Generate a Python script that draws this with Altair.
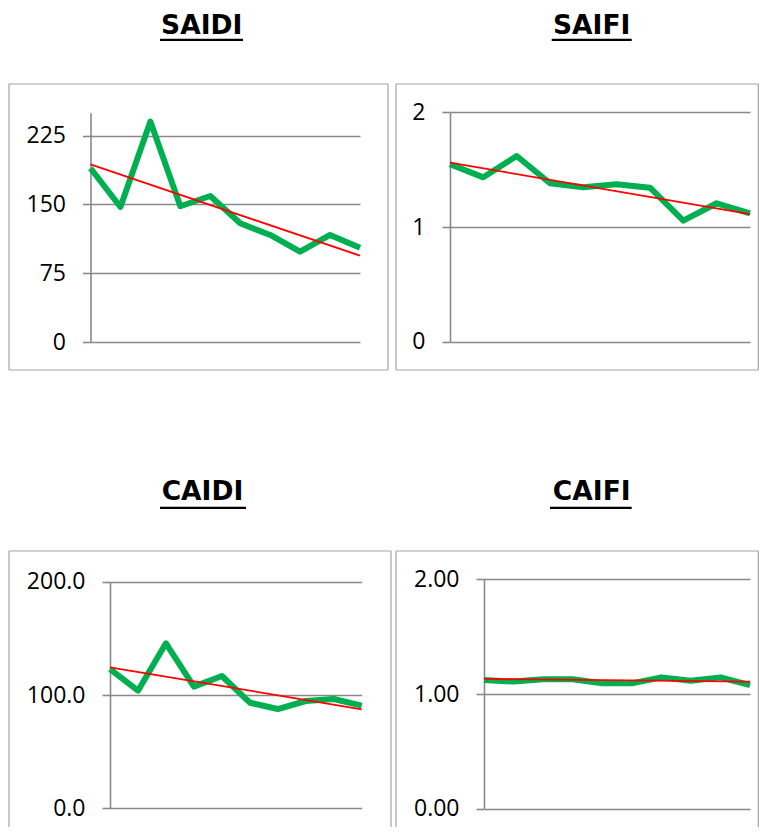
import altair as alt
import pandas as pd

# ---- data ----
points = list(range(10))

saidi = [189.4, 147.2, 240.4, 148.0, 159.2, 129.4, 116.7, 98.5, 116.7, 102.8]
saidi_trend = [193.7, 94.1]

saifi = [1.547, 1.433, 1.619, 1.381, 1.346, 1.372, 1.343, 1.055, 1.207, 1.119]
saifi_trend = [1.561, 1.113]

caidi = [122.9, 103.8, 145.6, 107.4, 116.8, 93.2, 87.6, 94.7, 96.5, 90.6]
caidi_trend = [124.4, 87.4]

caifi = [1.122, 1.108, 1.128, 1.128, 1.093, 1.093, 1.145, 1.116, 1.145, 1.078]
caifi_trend = [1.131, 1.108]

titles = ["SAIDI", "SAIFI", "CAIDI", "CAIFI"]
y_max = [250, 2, 200, 2]
y_ticks = [[0, 75, 150, 225], [0, 1, 2], [0, 100, 200], [0, 1, 2]]
y_formats = [".0f", ".0f", ".1f", ".2f"]

# ---- layout: every panel is a cell; coordinates are relative to the cell ----
layouts = [
    dict(W=384, H=412, xr=(82.5, 352), yr=(334, 104.7),
         box=(1, 380, 76, 362), tx=193.7, ty=25.6, ul=(152, 235, 31.8)),
    dict(W=367, H=412, xr=(58, 358), yr=(333.7, 104.3),
         box=(4, 366.3, 76, 362), tx=199.7, ty=25.6, ul=(159.7, 239.7, 31.8)),
    dict(W=384, H=407, xr=(102, 353.7), yr=(388.3, 161.7),
         box=(1, 383, 131, None), tx=194.5, ty=80.3, ul=(152, 238, 87.8)),
    dict(W=367, H=407, xr=(92, 358), yr=(388.7, 159.3),
         box=(4, 366.3, 131, None), tx=199.7, ty=80.3, ul=(158, 239.7, 87.8)),
]

GRID = "#898989"
BOX = "#a3a3a3"
one = alt.Data(values=[{"a": 1}])


def panel(title, values, trend, ymax, ticks, fmt, g):
    line_df = pd.DataFrame({"i": points, "v": values})
    trend_df = pd.DataFrame({"i": [points[0], points[-1]], "v": trend})

    xenc = alt.X(
        "i:Q",
        scale=alt.Scale(domain=[0, 9], range=list(g["xr"]), nice=False, zero=False),
        axis=None,
    )
    yenc = alt.Y(
        "v:Q",
        scale=alt.Scale(domain=[0, ymax], range=list(g["yr"]), nice=False, zero=True),
        axis=alt.Axis(
            values=ticks, format=fmt, title=None, offset=-g["xr"][0],
            grid=True, gridColor=GRID, gridWidth=1.6,
            domain=True, domainColor=GRID, domainWidth=1.6,
            ticks=True, tickColor=GRID, tickWidth=1.6, tickSize=8,
            labelFont="Open Sans", labelFontSize=23, labelColor="#000000",
            labelPadding=17, labelFlush=False, labelOverlap=False,
        ),
    )

    bx0, bx1, by0, by1 = g["box"]
    bottom = by1 if by1 is not None else g["H"]
    box_layers = [
        alt.Chart(one).mark_rule(color=BOX, strokeWidth=1.2).encode(
            x=alt.value(bx0), x2=alt.value(bx1), y=alt.value(by0)),
        alt.Chart(one).mark_rule(color=BOX, strokeWidth=1.2).encode(
            x=alt.value(bx0), y=alt.value(by0), y2=alt.value(bottom)),
        alt.Chart(one).mark_rule(color=BOX, strokeWidth=1.2).encode(
            x=alt.value(bx1), y=alt.value(by0), y2=alt.value(bottom)),
    ]
    if by1 is not None:
        box_layers.append(
            alt.Chart(one).mark_rule(color=BOX, strokeWidth=1.2).encode(
                x=alt.value(bx0), x2=alt.value(bx1), y=alt.value(by1)))

    title_text = alt.Chart(one).mark_text(
        text=title, font="DejaVu Sans", fontSize=26.5, fontWeight="bold",
        align="center", baseline="alphabetic", color="#000000",
    ).encode(x=alt.value(g["tx"]), y=alt.value(g["ty"]))

    u0, u1, uy = g["ul"]
    underline = alt.Chart(one).mark_rule(color="#000000", strokeWidth=2.2).encode(
        x=alt.value(u0), x2=alt.value(u1), y=alt.value(uy))

    green = alt.Chart(line_df).mark_line(
        color="#00b050", strokeWidth=6, strokeJoin="round"
    ).encode(x=xenc, y=yenc)
    red = alt.Chart(trend_df).mark_line(color="#ff0000", strokeWidth=1.8).encode(x=xenc, y=yenc)

    return alt.layer(*box_layers, title_text, underline, green, red).properties(
        width=g["W"], height=g["H"]
    )


series = [(saidi, saidi_trend), (saifi, saifi_trend), (caidi, caidi_trend), (caifi, caifi_trend)]
panels = [
    panel(titles[k], series[k][0], series[k][1], y_max[k], y_ticks[k], y_formats[k], layouts[k])
    for k in range(4)
]

chart = alt.vconcat(
    alt.hconcat(panels[0], panels[1], spacing=0),
    alt.hconcat(panels[2], panels[3], spacing=0),
    spacing=0,
).properties(padding=0, background="white").configure_view(stroke=None).configure_concat(spacing=0)

chart.save("out.html", embed_options={"renderer": "svg", "actions": False})
